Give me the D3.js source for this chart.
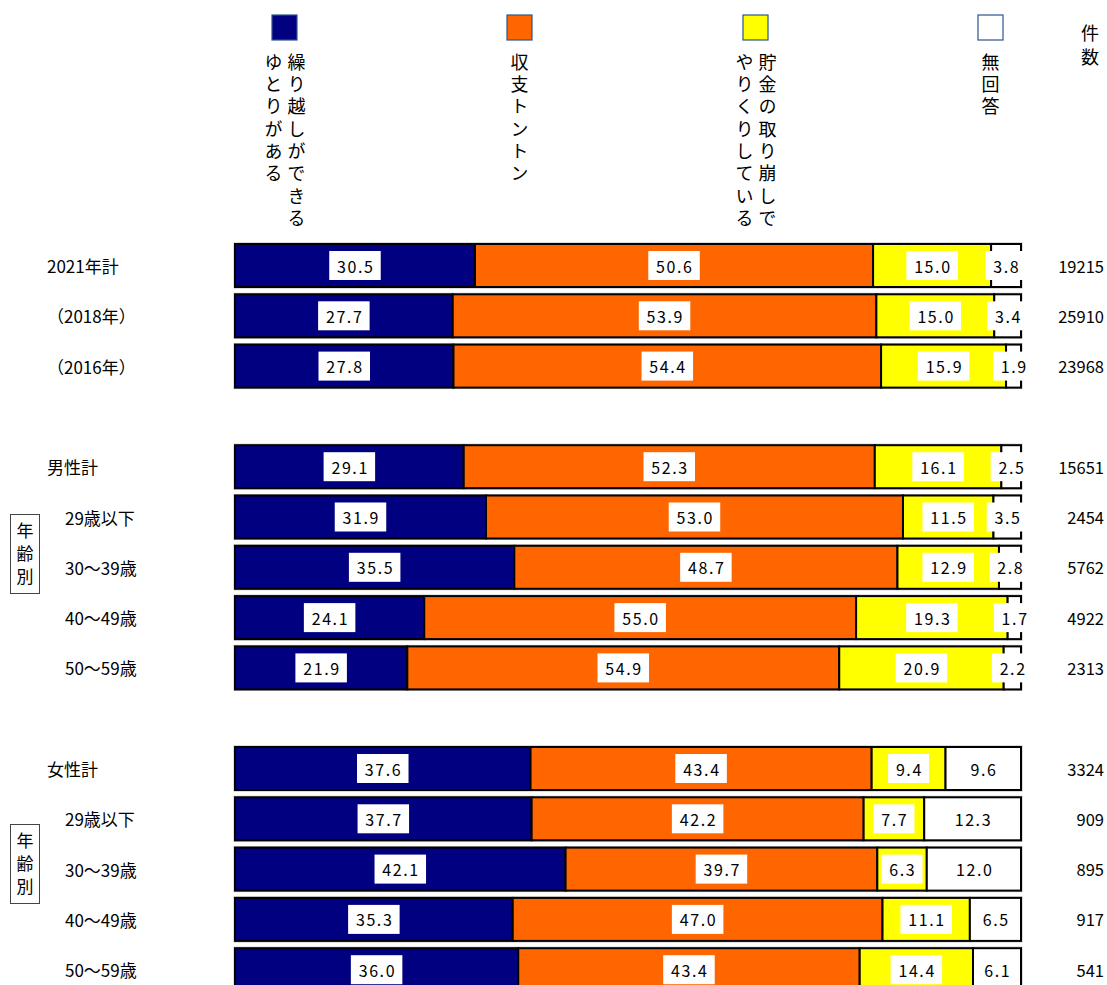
<!DOCTYPE html>
<html><head><meta charset="utf-8">
<script src="https://cdn.jsdelivr.net/npm/d3@7"></script>
<style>
body{margin:0;background:#fff}
text{font-family:"Noto Sans CJK JP","Noto Sans",sans-serif;fill:#000}
</style></head><body>
<svg id="c" width="1107" height="985"></svg>
<script>
// ---- data ----
const seriesNames = ["繰り越しができるゆとりがある","収支トントン","貯金の取り崩しでやりくりしている","無回答"];
const legendColumns = [["繰り越しができる","ゆとりがある"],["収支トントン"],["貯金の取り崩しで","やりくりしている"],["無回答"]];
const seriesColors = ["#000080","#FF6600","#FFFF00","#FFFFFF"];
const categories = ["2021年計","（2018年）","（2016年）","","男性計","29歳以下","30～39歳","40～49歳","50～59歳","","女性計","29歳以下","30～39歳","40～49歳","50～59歳"];
const yutori      = [30.5,27.7,27.8,null,29.1,31.9,35.5,24.1,21.9,null,37.6,37.7,42.1,35.3,36.0];
const tonton      = [50.6,53.9,54.4,null,52.3,53.0,48.7,55.0,54.9,null,43.4,42.2,39.7,47.0,43.4];
const torikuzushi = [15.0,15.0,15.9,null,16.1,11.5,12.9,19.3,20.9,null,9.4,7.7,6.3,11.1,14.4];
const mukaito     = [3.8,3.4,1.9,null,2.5,3.5,2.8,1.7,2.2,null,9.6,12.3,12.0,6.5,6.1];
const counts      = [19215,25910,23968,null,15651,2454,5762,4922,2313,null,3324,909,895,917,541];
const countHeader = "件数";
const sideLabel = "年齢別";

const series = [yutori, tonton, torikuzushi, mukaito];

// ---- layout ----
const svg = d3.select("#c");
const x = d3.scaleLinear().domain([0,100]).range([235,1021]);
const y = d3.scaleBand().domain(d3.range(categories.length))
  .range([240.35, 994.85]).paddingInner(0.145).paddingOuter(0.0725);

// legend
const sq = 25;
const legendCenters = [284.5, 519.5, 755.5, 990.5];
legendColumns.forEach((cols, s) => {
  const cx = legendCenters[s];
  svg.append("rect").attr("x", cx - sq/2).attr("y", 15).attr("width", sq).attr("height", sq)
    .attr("fill", seriesColors[s]).attr("stroke", "#2F528F").attr("stroke-width", 1.2);
  cols.forEach((col, j) => {
    const n = cols.length;
    const colX = n === 1 ? cx : cx + 12 - j * 23;
    svg.append("text").attr("x", colX).attr("y", 53)
      .style("writing-mode", "vertical-rl")
      .attr("font-size", 18).attr("letter-spacing", 4.3)
      .text(col);
  });
});
svg.append("text").attr("x", 1090).attr("y", 24)
  .style("writing-mode", "vertical-rl")
  .attr("font-size", 18).attr("letter-spacing", 6)
  .text(countHeader);

// rows
categories.forEach((cat, i) => {
  if (!cat) return;
  const vals = series.map(a => a[i]);
  const total = d3.sum(vals);
  const yc = y(i) + y.bandwidth()/2;
  const indent = cat.includes("歳");
  svg.append("text").attr("x", indent ? 65 : 47).attr("y", yc)
    .attr("dominant-baseline", "central").attr("font-size", 17).text(cat);

  let cum = 0;
  const segs = vals.map((v, s) => {
    const x0 = x(cum / total * 100), x1 = x((cum + v) / total * 100);
    cum += v;
    return {v, s, x0, x1};
  });
  const g = svg.append("g");
  g.append("rect").attr("x", x(0) - 1).attr("y", y(i) - 1)
    .attr("width", x(100) - x(0) + 2).attr("height", y.bandwidth() + 2)
    .attr("fill", "none").attr("stroke", "#bbb").attr("stroke-width", 1);
  segs.forEach(d => {
    g.append("rect").attr("x", d.x0).attr("y", y(i))
      .attr("width", d.x1 - d.x0).attr("height", y.bandwidth())
      .attr("fill", seriesColors[d.s]).attr("stroke", "#000").attr("stroke-width", 2);
  });
  segs.forEach(d => {
    const cx = (d.x0 + d.x1) / 2;
    const lg = g.append("g");
    const box = lg.append("rect").attr("fill", "#fff");
    const t = lg.append("text").attr("x", cx + 0.8).attr("y", yc)
      .attr("text-anchor", "middle").attr("dominant-baseline", "central")
      .attr("font-size", 16).attr("letter-spacing", 1.6)
      .text(d.v.toFixed(1));
    const w = t.node().getBBox().width;
    box.attr("x", cx - w/2 - 7).attr("y", yc - 14.5).attr("width", w + 14).attr("height", 29);
  });

  svg.append("text").attr("x", 1104).attr("y", yc)
    .attr("text-anchor", "end").attr("dominant-baseline", "central")
    .attr("font-size", 16.5).text(counts[i]);
});

// side "年齢別" boxes
const sideBoxes = [{top: 514}, {top: 824}];
sideBoxes.forEach(b => {
  svg.append("rect").attr("x", 10.5).attr("y", b.top + 0.5).attr("width", 29).attr("height", 79)
    .attr("fill", "#fff").attr("stroke", "#444").attr("stroke-width", 1);
  svg.append("text").attr("x", 25).attr("y", b.top + 8)
    .style("writing-mode", "vertical-rl")
    .attr("font-size", 17).attr("letter-spacing", 6)
    .text(sideLabel);
});
</script>
</body></html>
